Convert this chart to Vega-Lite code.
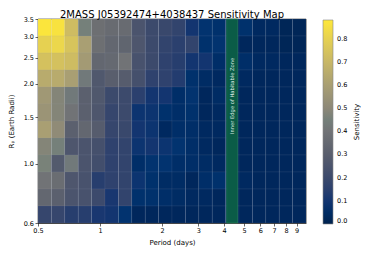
{
  "$schema": "https://vega.github.io/schema/vega-lite/v6.json",
  "width": 268,
  "height": 204,
  "autosize": "none",
  "padding": {"left": 38, "top": 19, "right": 76, "bottom": 32},
  "background": "white",
  "title": {"text": "2MASS J05392474+4038437 Sensitivity Map", "font": "DejaVu Sans", "fontSize": 10, "fontWeight": "normal", "offset": -4, "color": "black"},
  "config": {
    "view": {"stroke": "black", "strokeWidth": 0.6},
    "axis": {"labelFont": "DejaVu Sans", "titleFont": "DejaVu Sans", "labelFontSize": 6.5, "titleFontSize": 7, "titleFontWeight": "normal", "labelColor": "black", "titleColor": "black", "tickColor": "black", "domainColor": "black", "domainWidth": 0.6, "tickWidth": 0.6, "tickSize": 3, "labelPadding": 1.5, "grid": false},
    "axisY": {"titlePadding": 9},
    "legend": {"labelFont": "DejaVu Sans", "titleFont": "DejaVu Sans", "labelFontSize": 6.5, "titleFontSize": 7, "titleFontWeight": "normal", "labelColor": "black", "titleColor": "black"}
  },
  "datasets": {
    "cols": [
      {"c": 0, "p0": 0.5, "p1": 0.5808}, {"c": 1, "p0": 0.5808, "p1": 0.6746}, {"c": 2, "p0": 0.6746, "p1": 0.7837}, {"c": 3, "p0": 0.7837, "p1": 0.9103}, {"c": 4, "p0": 0.9103, "p1": 1.0574},
      {"c": 5, "p0": 1.0574, "p1": 1.2282}, {"c": 6, "p0": 1.2282, "p1": 1.4267}, {"c": 7, "p0": 1.4267, "p1": 1.6572}, {"c": 8, "p0": 1.6572, "p1": 1.925}, {"c": 9, "p0": 1.925, "p1": 2.2361},
      {"c": 10, "p0": 2.2361, "p1": 2.5974}, {"c": 11, "p0": 2.5974, "p1": 3.0171}, {"c": 12, "p0": 3.0171, "p1": 3.5046}, {"c": 13, "p0": 3.5046, "p1": 4.0709}, {"c": 14, "p0": 4.0709, "p1": 4.7287},
      {"c": 15, "p0": 4.7287, "p1": 5.4928}, {"c": 16, "p0": 5.4928, "p1": 6.3804}, {"c": 17, "p0": 6.3804, "p1": 7.4113}, {"c": 18, "p0": 7.4113, "p1": 8.6089}, {"c": 19, "p0": 8.6089, "p1": 10}
    ],
    "rows": [
      {"r": 0, "r0": 3.0218, "r1": 3.5}, {"r": 1, "r0": 2.6088, "r1": 3.0218}, {"r": 2, "r0": 2.2522, "r1": 2.6088}, {"r": 3, "r0": 1.9444, "r1": 2.2522},
      {"r": 4, "r0": 1.6786, "r1": 1.9444}, {"r": 5, "r0": 1.4492, "r1": 1.6786}, {"r": 6, "r0": 1.2511, "r1": 1.4492}, {"r": 7, "r0": 1.0801, "r1": 1.2511},
      {"r": 8, "r0": 0.9325, "r1": 1.0801}, {"r": 9, "r0": 0.805, "r1": 0.9325}, {"r": 10, "r0": 0.695, "r1": 0.805}, {"r": 11, "r0": 0.6, "r1": 0.695}
    ],
    "cells": [
      {"r":0,"c":0,"s":0.87},{"r":0,"c":1,"s":0.86},{"r":0,"c":2,"s":0.72},{"r":0,"c":3,"s":0.45},{"r":0,"c":4,"s":0.38},{"r":0,"c":5,"s":0.36},{"r":0,"c":6,"s":0.36},{"r":0,"c":7,"s":0.25},{"r":0,"c":8,"s":0.2},{"r":0,"c":9,"s":0.19},{"r":0,"c":10,"s":0.17},{"r":0,"c":11,"s":0.1},{"r":0,"c":12,"s":0.08},{"r":0,"c":13,"s":0.07},{"r":0,"c":14,"s":0.03},{"r":0,"c":15,"s":0.07},{"r":0,"c":16,"s":0.04},{"r":0,"c":17,"s":0.04},{"r":0,"c":18,"s":0.02},{"r":0,"c":19,"s":0.02},
      {"r":1,"c":0,"s":0.8},{"r":1,"c":1,"s":0.82},{"r":1,"c":2,"s":0.75},{"r":1,"c":3,"s":0.6},{"r":1,"c":4,"s":0.38},{"r":1,"c":5,"s":0.34},{"r":1,"c":6,"s":0.33},{"r":1,"c":7,"s":0.26},{"r":1,"c":8,"s":0.2},{"r":1,"c":9,"s":0.17},{"r":1,"c":10,"s":0.15},{"r":1,"c":11,"s":0.17},{"r":1,"c":12,"s":0.07},{"r":1,"c":13,"s":0.08},{"r":1,"c":14,"s":0.03},{"r":1,"c":15,"s":0.03},{"r":1,"c":16,"s":0.03},{"r":1,"c":17,"s":0.03},{"r":1,"c":18,"s":0.02},{"r":1,"c":19,"s":0.02},
      {"r":2,"c":0,"s":0.74},{"r":2,"c":1,"s":0.74},{"r":2,"c":2,"s":0.72},{"r":2,"c":3,"s":0.58},{"r":2,"c":4,"s":0.34},{"r":2,"c":5,"s":0.35},{"r":2,"c":6,"s":0.4},{"r":2,"c":7,"s":0.24},{"r":2,"c":8,"s":0.2},{"r":2,"c":9,"s":0.16},{"r":2,"c":10,"s":0.14},{"r":2,"c":11,"s":0.1},{"r":2,"c":12,"s":0.1},{"r":2,"c":13,"s":0.06},{"r":2,"c":14,"s":0.03},{"r":2,"c":15,"s":0.06},{"r":2,"c":16,"s":0.04},{"r":2,"c":17,"s":0.04},{"r":2,"c":18,"s":0.03},{"r":2,"c":19,"s":0.03},
      {"r":3,"c":0,"s":0.65},{"r":3,"c":1,"s":0.65},{"r":3,"c":2,"s":0.6},{"r":3,"c":3,"s":0.42},{"r":3,"c":4,"s":0.27},{"r":3,"c":5,"s":0.3},{"r":3,"c":6,"s":0.29},{"r":3,"c":7,"s":0.23},{"r":3,"c":8,"s":0.16},{"r":3,"c":9,"s":0.16},{"r":3,"c":10,"s":0.13},{"r":3,"c":11,"s":0.07},{"r":3,"c":12,"s":0.05},{"r":3,"c":13,"s":0.04},{"r":3,"c":14,"s":0.03},{"r":3,"c":15,"s":0.04},{"r":3,"c":16,"s":0.03},{"r":3,"c":17,"s":0.03},{"r":3,"c":18,"s":0.03},{"r":3,"c":19,"s":0.03},
      {"r":4,"c":0,"s":0.57},{"r":4,"c":1,"s":0.48},{"r":4,"c":2,"s":0.42},{"r":4,"c":3,"s":0.31},{"r":4,"c":4,"s":0.27},{"r":4,"c":5,"s":0.2},{"r":4,"c":6,"s":0.2},{"r":4,"c":7,"s":0.15},{"r":4,"c":8,"s":0.1},{"r":4,"c":9,"s":0.1},{"r":4,"c":10,"s":0.06},{"r":4,"c":11,"s":0.08},{"r":4,"c":12,"s":0.03},{"r":4,"c":13,"s":0.05},{"r":4,"c":14,"s":0.03},{"r":4,"c":15,"s":0.03},{"r":4,"c":16,"s":0.03},{"r":4,"c":17,"s":0.03},{"r":4,"c":18,"s":0.03},{"r":4,"c":19,"s":0.03},
      {"r":5,"c":0,"s":0.55},{"r":5,"c":1,"s":0.48},{"r":5,"c":2,"s":0.4},{"r":5,"c":3,"s":0.31},{"r":5,"c":4,"s":0.26},{"r":5,"c":5,"s":0.18},{"r":5,"c":6,"s":0.2},{"r":5,"c":7,"s":0.09},{"r":5,"c":8,"s":0.09},{"r":5,"c":9,"s":0.07},{"r":5,"c":10,"s":0.06},{"r":5,"c":11,"s":0.07},{"r":5,"c":12,"s":0.03},{"r":5,"c":13,"s":0.04},{"r":5,"c":14,"s":0.03},{"r":5,"c":15,"s":0.03},{"r":5,"c":16,"s":0.03},{"r":5,"c":17,"s":0.03},{"r":5,"c":18,"s":0.03},{"r":5,"c":19,"s":0.03},
      {"r":6,"c":0,"s":0.6},{"r":6,"c":1,"s":0.51},{"r":6,"c":2,"s":0.31},{"r":6,"c":3,"s":0.34},{"r":6,"c":4,"s":0.29},{"r":6,"c":5,"s":0.18},{"r":6,"c":6,"s":0.19},{"r":6,"c":7,"s":0.1},{"r":6,"c":8,"s":0.09},{"r":6,"c":9,"s":0.04},{"r":6,"c":10,"s":0.06},{"r":6,"c":11,"s":0.06},{"r":6,"c":12,"s":0.04},{"r":6,"c":13,"s":0.04},{"r":6,"c":14,"s":0.03},{"r":6,"c":15,"s":0.03},{"r":6,"c":16,"s":0.03},{"r":6,"c":17,"s":0.03},{"r":6,"c":18,"s":0.03},{"r":6,"c":19,"s":0.03},
      {"r":7,"c":0,"s":0.48},{"r":7,"c":1,"s":0.45},{"r":7,"c":2,"s":0.26},{"r":7,"c":3,"s":0.25},{"r":7,"c":4,"s":0.23},{"r":7,"c":5,"s":0.16},{"r":7,"c":6,"s":0.17},{"r":7,"c":7,"s":0.09},{"r":7,"c":8,"s":0.1},{"r":7,"c":9,"s":0.09},{"r":7,"c":10,"s":0.08},{"r":7,"c":11,"s":0.06},{"r":7,"c":12,"s":0.04},{"r":7,"c":13,"s":0.03},{"r":7,"c":14,"s":0.03},{"r":7,"c":15,"s":0.03},{"r":7,"c":16,"s":0.03},{"r":7,"c":17,"s":0.03},{"r":7,"c":18,"s":0.03},{"r":7,"c":19,"s":0.03},
      {"r":8,"c":0,"s":0.46},{"r":8,"c":1,"s":0.28},{"r":8,"c":2,"s":0.42},{"r":8,"c":3,"s":0.25},{"r":8,"c":4,"s":0.22},{"r":8,"c":5,"s":0.16},{"r":8,"c":6,"s":0.17},{"r":8,"c":7,"s":0.06},{"r":8,"c":8,"s":0.08},{"r":8,"c":9,"s":0.08},{"r":8,"c":10,"s":0.06},{"r":8,"c":11,"s":0.06},{"r":8,"c":12,"s":0.05},{"r":8,"c":13,"s":0.04},{"r":8,"c":14,"s":0.03},{"r":8,"c":15,"s":0.03},{"r":8,"c":16,"s":0.03},{"r":8,"c":17,"s":0.03},{"r":8,"c":18,"s":0.03},{"r":8,"c":19,"s":0.03},
      {"r":9,"c":0,"s":0.4},{"r":9,"c":1,"s":0.37},{"r":9,"c":2,"s":0.26},{"r":9,"c":3,"s":0.24},{"r":9,"c":4,"s":0.14},{"r":9,"c":5,"s":0.16},{"r":9,"c":6,"s":0.17},{"r":9,"c":7,"s":0.09},{"r":9,"c":8,"s":0.07},{"r":9,"c":9,"s":0.05},{"r":9,"c":10,"s":0.05},{"r":9,"c":11,"s":0.03},{"r":9,"c":12,"s":0.06},{"r":9,"c":13,"s":0.07},{"r":9,"c":14,"s":0.03},{"r":9,"c":15,"s":0.04},{"r":9,"c":16,"s":0.03},{"r":9,"c":17,"s":0.03},{"r":9,"c":18,"s":0.03},{"r":9,"c":19,"s":0.03},
      {"r":10,"c":0,"s":0.34},{"r":10,"c":1,"s":0.31},{"r":10,"c":2,"s":0.25},{"r":10,"c":3,"s":0.24},{"r":10,"c":4,"s":0.2},{"r":10,"c":5,"s":0.11},{"r":10,"c":6,"s":0.17},{"r":10,"c":7,"s":0.07},{"r":10,"c":8,"s":0.07},{"r":10,"c":9,"s":0.06},{"r":10,"c":10,"s":0.05},{"r":10,"c":11,"s":0.04},{"r":10,"c":12,"s":0.04},{"r":10,"c":13,"s":0.03},{"r":10,"c":14,"s":0.03},{"r":10,"c":15,"s":0.03},{"r":10,"c":16,"s":0.03},{"r":10,"c":17,"s":0.03},{"r":10,"c":18,"s":0.03},{"r":10,"c":19,"s":0.03},
      {"r":11,"c":0,"s":0.18},{"r":11,"c":1,"s":0.18},{"r":11,"c":2,"s":0.14},{"r":11,"c":3,"s":0.14},{"r":11,"c":4,"s":0.11},{"r":11,"c":5,"s":0.1},{"r":11,"c":6,"s":0.08},{"r":11,"c":7,"s":0.03},{"r":11,"c":8,"s":0.03},{"r":11,"c":9,"s":0.03},{"r":11,"c":10,"s":0.03},{"r":11,"c":11,"s":0.03},{"r":11,"c":12,"s":0.03},{"r":11,"c":13,"s":0.03},{"r":11,"c":14,"s":0.03},{"r":11,"c":15,"s":0.03},{"r":11,"c":16,"s":0.03},{"r":11,"c":17,"s":0.03},{"r":11,"c":18,"s":0.03},{"r":11,"c":19,"s":0.03}
    ]
  },
  "layer": [
    {
      "data": {"name": "cells"},
      "transform": [
        {"lookup": "c", "from": {"data": {"name": "cols"}, "key": "c", "fields": ["p0", "p1"]}},
        {"lookup": "r", "from": {"data": {"name": "rows"}, "key": "r", "fields": ["r0", "r1"]}}
      ],
      "mark": {"type": "rect", "stroke": "#9aa6c0", "strokeOpacity": 0.18, "strokeWidth": 0.5},
      "encoding": {
        "x": {"field": "p0", "type": "quantitative", "title": "Period (days)",
              "scale": {"type": "log", "domain": [0.5, 10], "nice": false},
              "axis": {"values": [0.5, 1, 2, 3, 4, 5, 6, 7, 8, 9], "format": "~g", "labelFlush": false, "labelOverlap": false}},
        "x2": {"field": "p1"},
        "y": {"field": "r0", "type": "quantitative", "title": "Rₚ (Earth Radii)",
              "scale": {"type": "log", "domain": [0.6, 3.5], "nice": false},
              "axis": {"values": [0.6, 1.0, 1.5, 2.0, 2.5, 3.0, 3.5], "format": ".1f", "labelFlush": false, "labelOverlap": false}},
        "y2": {"field": "r1"},
        "color": {"field": "s", "type": "quantitative", "title": "Sensitivity",
                  "scale": {"domain": [0, 0.044, 0.078, 0.0978, 0.1956, 0.2933, 0.3911, 0.4889, 0.5867, 0.6844, 0.7822, 0.88],
                            "range": ["#00224e", "#002a62", "#00336f", "#123570", "#3b496c", "#575d6d", "#707173", "#8a8678", "#a59c74", "#c3b369", "#e1cc55", "#fee838"]},
                  "legend": {"orient": "none", "legendX": 285, "legendY": 1, "direction": "vertical", "gradientLength": 204, "gradientThickness": 10,
                             "gradientStrokeColor": "#888", "gradientStrokeWidth": 0.6, "values": [0, 0.1, 0.2, 0.3, 0.4, 0.5, 0.6, 0.7, 0.8], "format": ".1f",
                             "labelOverlap": false, "labelOffset": 4, "labelBaseline": "middle", "padding": 0, "titleOrient": "right", "titlePadding": 6, "titleAnchor": "middle",
                             "encoding": {"title": {"angle": {"value": -90}, "baseline": {"value": "top"}}}}}
      }
    },
    {
      "data": {"values": [{"p0": 4.12, "p1": 4.66}]},
      "mark": {"type": "rect", "fill": "#0b5c47", "stroke": "#2c8a5c", "strokeWidth": 0.6},
      "encoding": {
        "x": {"field": "p0", "type": "quantitative", "title": "Period (days)"},
        "x2": {"field": "p1"}
      }
    },
    {
      "data": {"values": [{"p": 4.38, "r": 1.8, "label": "Inner Edge of Habitable Zone"}]},
      "mark": {"type": "text", "angle": 270, "font": "DejaVu Sans", "fontSize": 5.2, "fill": "#dde9e3", "align": "center", "baseline": "middle"},
      "encoding": {
        "x": {"field": "p", "type": "quantitative", "title": "Period (days)"},
        "y": {"field": "r", "type": "quantitative", "title": "Rₚ (Earth Radii)"},
        "text": {"field": "label"}
      }
    }
  ]
}
